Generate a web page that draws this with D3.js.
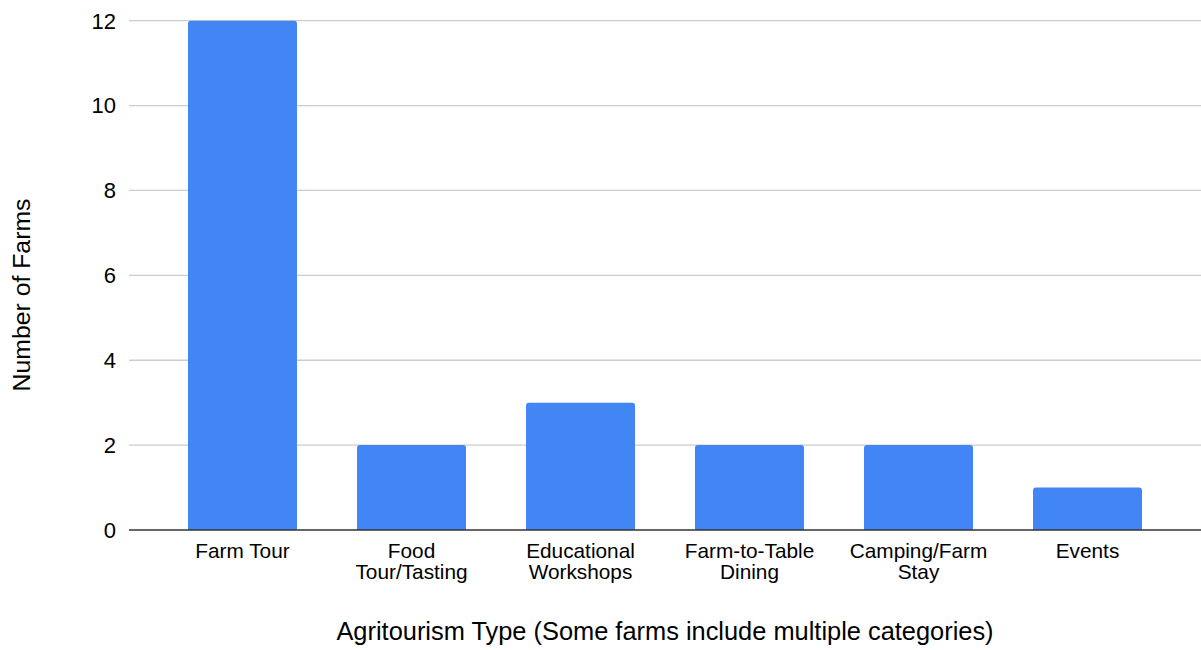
<!DOCTYPE html>
<html>
<head>
<meta charset="utf-8">
<script src="https://cdn.jsdelivr.net/npm/d3@7"></script>
<style>
	body { margin: 0; background: #fff; }
	text { font-family: "Liberation Sans", Arial, sans-serif; fill: #000; }
</style>
</head>
<body>
<div id="chartContainer"></div>
<script>
const categories = ["Farm Tour", "Food Tour/Tasting", "Educational Workshops", "Farm-to-Table Dining", "Camping/Farm Stay", "Events"];
const categoryLines = [["Farm Tour"], ["Food", "Tour/Tasting"], ["Educational", "Workshops"], ["Farm-to-Table", "Dining"], ["Camping/Farm", "Stay"], ["Events"]];
const farmCounts = [12, 2, 3, 2, 2, 1];
const yTicks = [0, 2, 4, 6, 8, 10, 12];

function initializeBarChart(){
	let width = 1201, height = 650;
	let left = 129, right = 1201, top = 20.7, bottom = 530;

	let svg = d3.select("#chartContainer")
		.append("svg")
		.attr("width", width)
		.attr("height", height);

	let xScale = d3.scaleBand()
		.domain(categories)
		.range([left, right])
		.paddingInner(0.355)
		.paddingOuter(0.349);

	let yScale = d3.scaleLinear()
		.domain([0, 12])
		.range([bottom, top]);

	// gridlines
	svg.append("g")
		.selectAll("line")
		.data(yTicks.filter(d => d > 0))
		.join("line")
		.attr("x1", left)
		.attr("x2", right)
		.attr("y1", d => yScale(d))
		.attr("y2", d => yScale(d))
		.attr("stroke", "#cccccc")
		.attr("stroke-width", 1.3);

	// y tick labels
	svg.append("g")
		.selectAll("text")
		.data(yTicks)
		.join("text")
		.attr("x", 116)
		.attr("y", d => yScale(d) + 7.8)
		.attr("text-anchor", "end")
		.style("font-size", "22px")
		.text(d => d);

	// bars with rounded tops
	let r = 3;
	svg.append("g")
		.selectAll("path")
		.data(farmCounts)
		.join("path")
		.attr("fill", "#4285f4")
		.attr("d", (d, i) => {
			let x0 = xScale(categories[i]), x1 = x0 + xScale.bandwidth();
			let y0 = yScale(d), y1 = yScale(0);
			return `M${x0},${y1}V${y0 + r}Q${x0},${y0} ${x0 + r},${y0}H${x1 - r}Q${x1},${y0} ${x1},${y0 + r}V${y1}Z`;
		});

	// baseline
	svg.append("line")
		.attr("x1", left)
		.attr("x2", right)
		.attr("y1", yScale(0))
		.attr("y2", yScale(0))
		.attr("stroke", "#333333")
		.attr("stroke-width", 1.5);

	// category labels
	let labels = svg.append("g")
		.selectAll("text")
		.data(categoryLines)
		.join("text")
		.attr("text-anchor", "middle")
		.style("font-size", "20.8px")
		.attr("transform", (d, i) => `translate(${xScale(categories[i]) + xScale.bandwidth() / 2}, 558)`);

	labels.selectAll("tspan")
		.data(d => d)
		.join("tspan")
		.attr("x", 0)
		.attr("y", (d, j) => j * 21)
		.text(d => d);

	// axis titles
	svg.append("text")
		.attr("transform", "translate(30, 295) rotate(-90)")
		.attr("text-anchor", "middle")
		.style("font-size", "24.8px")
		.text("Number of Farms");

	svg.append("text")
		.attr("x", (left + right) / 2)
		.attr("y", 640)
		.attr("text-anchor", "middle")
		.style("font-size", "25.4px")
		.text("Agritourism Type (Some farms include multiple categories)");
}

initializeBarChart();
</script>
</body>
</html>
